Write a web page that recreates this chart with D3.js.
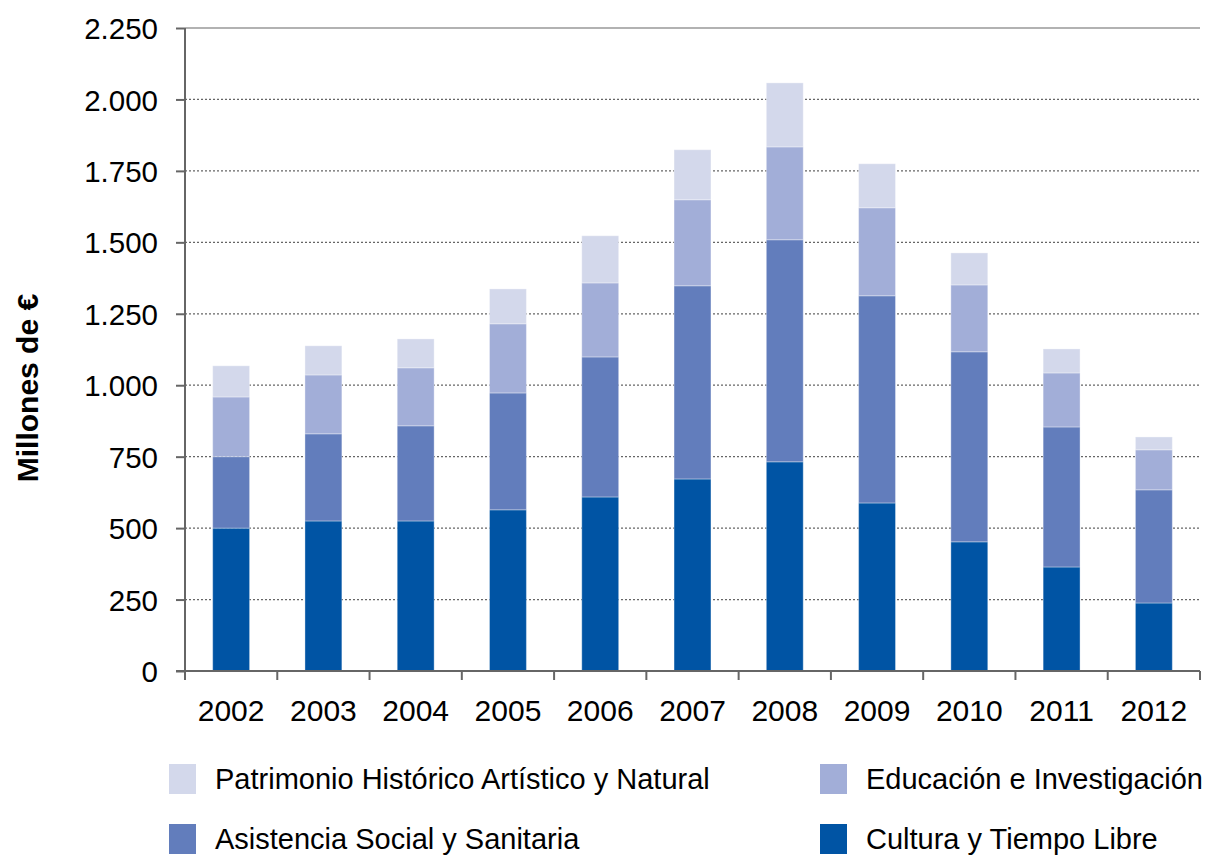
<!DOCTYPE html>
<html lang="es">
<head>
<meta charset="UTF-8">
<title>Millones de €</title>
<style>
  body { margin: 0; background: #fff; }
  svg { display: block; font-family: "Liberation Sans", Arial, sans-serif; }
</style>
</head>
<body>
<svg id="chart"></svg>
<script src="https://d3js.org/d3.v7.min.js"></script>
<script>
// data (millones de €)
const years = ["2002", "2003", "2004", "2005", "2006", "2007", "2008", "2009", "2010", "2011", "2012"];
const cultura = [500, 525, 525, 564, 609, 672, 732, 588, 452, 364, 238];
const asistencia = [250, 305, 333, 409, 490, 676, 777, 725, 665, 490, 396];
const educacion = [209, 206, 203, 242, 259, 301, 325, 308, 234, 189, 140];
const patrimonio = [109, 102, 101, 122, 165, 175, 224, 154, 112, 84, 45];
const seriesNames = ["Cultura y Tiempo Libre", "Asistencia Social y Sanitaria", "Educación e Investigación", "Patrimonio Histórico Artístico y Natural"];
const seriesColors = ["#0054a4", "#627dbc", "#a2aed8", "#d3d8eb"];
const yTicks = [0, 250, 500, 750, 1000, 1250, 1500, 1750, 2000, 2250];

const width = 1205, height = 856;
const margin = { top: 28, right: 5, bottom: 185, left: 185 };

const svg = d3.select("#chart")
    .attr("width", width)
    .attr("height", height)
    .attr("viewBox", [0, 0, width, height]);

const rows = years.map((y, i) => ({
    year: y,
    c: cultura[i], a: asistencia[i], e: educacion[i], p: patrimonio[i]
}));
const keys = ["c", "a", "e", "p"];
const stacked = d3.stack().keys(keys)(rows);

const x = d3.scaleBand(years, [margin.left, width - margin.right]).paddingInner(0.6).paddingOuter(0.3);
const xBounds = d3.scaleLinear([0, years.length], [margin.left, width - margin.right]);
const y = d3.scaleLinear([0, 2250], [height - margin.bottom, margin.top]);

const fmt = d => d3.format(",")(d).replace(/,/g, ".");

// gridlines
svg.append("g")
    .selectAll("line")
    .data(yTicks.slice(1))
    .join("line")
    .attr("x1", margin.left)
    .attr("x2", width - margin.right)
    .attr("y1", d => y(d))
    .attr("y2", d => y(d))
    .attr("stroke", "#666")
    .attr("stroke-width", 1.2)
    .attr("stroke-dasharray", d => d === 2250 ? null : "2,2");

// bars
svg.append("g")
    .selectAll("g")
    .data(stacked)
    .join("g")
    .attr("fill", (d, i) => seriesColors[i])
    .selectAll("rect")
    .data(d => d)
    .join("rect")
    .attr("x", d => x(d.data.year))
    .attr("y", d => y(d[1]))
    .attr("width", x.bandwidth())
    .attr("height", d => y(d[0]) - y(d[1]))
    .attr("stroke", "rgba(255,255,255,0.35)")
    .attr("stroke-width", 1);

// y axis
const yAxis = d3.axisLeft(y).tickValues(yTicks).tickSize(9).tickPadding(18).tickFormat(fmt);
svg.append("g")
    .attr("transform", `translate(${margin.left},0)`)
    .call(yAxis)
    .call(g => g.select(".domain").attr("stroke", "#666").attr("stroke-width", 2).attr("d", `M0,${y(2250)}V${y(0)}`))
    .call(g => g.selectAll(".tick line").attr("stroke", "#666").attr("stroke-width", 2))
    .call(g => g.selectAll(".tick text").attr("font-size", 29.5).attr("fill", "#000").attr("font-family", "Liberation Sans, Arial, sans-serif").attr("dy", "0.36em"));

// x axis: ticks on category boundaries
const xg = svg.append("g").attr("transform", `translate(0,${y(0)})`);
xg.append("line")
    .attr("x1", margin.left - 9)
    .attr("x2", width - margin.right)
    .attr("stroke", "#666")
    .attr("stroke-width", 2);
xg.selectAll("line.b")
    .data(d3.range(years.length + 1))
    .join("line")
    .attr("class", "b")
    .attr("x1", d => xBounds(d))
    .attr("x2", d => xBounds(d))
    .attr("y1", 0)
    .attr("y2", 9)
    .attr("stroke", "#666")
    .attr("stroke-width", 2);
xg.selectAll("text")
    .data(years)
    .join("text")
    .attr("x", d => x(d) + x.bandwidth() / 2)
    .attr("y", 50)
    .attr("text-anchor", "middle")
    .attr("font-size", 30)
    .attr("fill", "#000")
    .text(d => d);

// y title
svg.append("text")
    .attr("transform", `translate(38,${y(990)}) rotate(-90)`)
    .attr("text-anchor", "middle")
    .attr("font-size", 30)
    .attr("font-weight", "bold")
    .attr("fill", "#000")
    .text("Millones de €");

// legend
const legendOrder = [3, 2, 1, 0];
const legendPos = [[169, 764], [820, 764], [169, 824], [820, 824]];
const lg = svg.append("g")
    .selectAll("g")
    .data(legendOrder)
    .join("g")
    .attr("transform", (d, i) => `translate(${legendPos[i][0]},${legendPos[i][1]})`);
lg.append("rect")
    .attr("width", 27)
    .attr("height", 30)
    .attr("fill", d => seriesColors[d]);
lg.append("text")
    .attr("x", 46)
    .attr("y", 15)
    .attr("dy", "0.33em")
    .attr("font-size", 29)
    .attr("fill", "#000")
    .text(d => seriesNames[d]);
</script>
</body>
</html>
